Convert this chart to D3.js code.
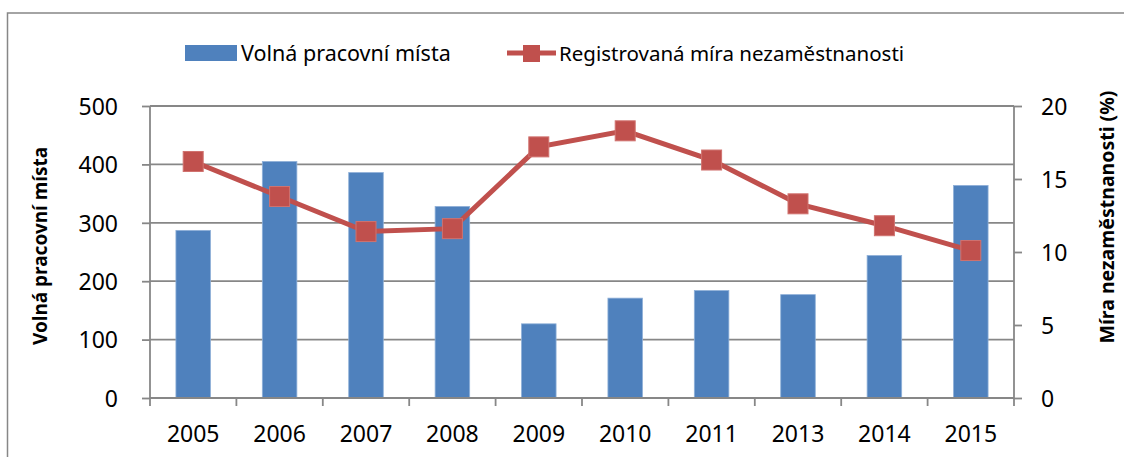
<!DOCTYPE html>
<html>
<head>
<meta charset="utf-8">
<script src="https://cdn.jsdelivr.net/npm/d3@7"></script>
<style>
  body { margin: 0; background: #fff; }
  svg { display: block; font-family: "Noto Sans", "Open Sans", sans-serif; }
  .tick text { fill: #000; }
</style>
</head>
<body>
<svg id="chart"></svg>
<script>
var width = 1124;
var height = 457;

// data
var years = ['2005', '2006', '2007', '2008', '2009', '2010', '2011', '2013', '2014', '2015'];
var vacancies = [287, 405, 386, 328, 127, 171, 184, 177, 244, 364];
var unemployment = [16.2, 13.8, 11.4, 11.6, 17.2, 18.3, 16.3, 13.3, 11.8, 10.1];
var leftTicks = [0, 100, 200, 300, 400, 500];
var rightTicks = [0, 5, 10, 15, 20];

var barName = 'Volná pracovní místa';
var lineName = 'Registrovaná míra nezaměstnanosti';
var leftTitle = 'Volná pracovní místa';
var rightTitle = 'Míra nezaměstnanosti (%)';

var blue = '#4f81bd';
var red = '#c0504d';
var grey = '#878787';

var plot = { left: 150, right: 1014, top: 106, bottom: 398 };

var svg = d3.select('#chart')
   .attr('width', width)
   .attr('height', height)
;

// outer frame
svg.append('rect')
   .attr('x', 7.5)
   .attr('y', 13)
   .attr('width', width)
   .attr('height', height)
   .attr('fill', 'none')
   .attr('stroke', grey)
   .attr('stroke-width', 1.5)
;

var x = d3.scaleBand()
   .domain(years)
   .range([plot.left, plot.right])
   .paddingInner(0.6)
   .paddingOuter(0.3)
;

var yL = d3.scaleLinear().domain([0, 500]).range([plot.bottom, plot.top]);
var yR = d3.scaleLinear().domain([0, 20]).range([plot.bottom, plot.top]);

// gridlines
svg.append('g')
   .selectAll('line')
   .data(leftTicks)
   .enter()
   .append('line')
   .attr('x1', plot.left)
   .attr('x2', plot.right)
   .attr('y1', function(d) { return yL(d); })
   .attr('y2', function(d) { return yL(d); })
   .attr('stroke', grey)
   .attr('stroke-width', 1.8)
;

// bars
svg.append('g')
   .selectAll('rect')
   .data(vacancies)
   .enter()
   .append('rect')
   .attr('x', function(d, i) { return x(years[i]); })
   .attr('y', function(d) { return yL(d); })
   .attr('width', x.bandwidth())
   .attr('height', function(d) { return yL(0) - yL(d); })
   .attr('fill', blue)
   .attr('stroke', '#8fb0d8')
   .attr('stroke-width', 0.8)
;

// left axis
var gl = svg.append('g')
   .attr('transform', 'translate(' + plot.left + ',0)')
   .call(d3.axisLeft(yL).tickValues(leftTicks).tickSize(8).tickPadding(24).tickFormat(d3.format('d')))
;

// right axis
var gr = svg.append('g')
   .attr('transform', 'translate(' + plot.right + ',0)')
   .call(d3.axisRight(yR).tickValues(rightTicks).tickSize(8).tickPadding(19).tickFormat(d3.format('d')))
;

[gl, gr].forEach(function(g) {
   g.selectAll('path, line').attr('stroke', grey).attr('stroke-width', 1.8);
   g.select('.domain').attr('d', 'M0,' + plot.top + 'V' + plot.bottom);
   g.selectAll('text')
      .style('font-size', '23px')
      .style('font-family', '"Noto Sans", sans-serif')
      .attr('dy', '0.36em')
   ;
});

// x axis
var step = x.step();
var bounds = years.map(function(d) { return x(d) - step * 0.3; }).concat([plot.right]);

svg.append('line')
   .attr('x1', plot.left)
   .attr('x2', plot.right)
   .attr('y1', plot.bottom)
   .attr('y2', plot.bottom)
   .attr('stroke', grey)
   .attr('stroke-width', 1.8)
;

svg.append('g')
   .selectAll('line')
   .data(bounds)
   .enter()
   .append('line')
   .attr('x1', function(d) { return d; })
   .attr('x2', function(d) { return d; })
   .attr('y1', plot.bottom)
   .attr('y2', plot.bottom + 8)
   .attr('stroke', grey)
   .attr('stroke-width', 1.8)
;

svg.append('g')
   .selectAll('text')
   .data(years)
   .enter()
   .append('text')
   .attr('x', function(d) { return x(d) + x.bandwidth() / 2; })
   .attr('y', 442)
   .attr('text-anchor', 'middle')
   .style('font-size', '23px')
   .text(function(d) { return d; })
;

// line series
var line = d3.line()
   .x(function(d, i) { return x(years[i]) + x.bandwidth() / 2; })
   .y(function(d) { return yR(d); })
;

svg.append('path')
   .datum(unemployment)
   .attr('d', line)
   .attr('fill', 'none')
   .attr('stroke', red)
   .attr('stroke-width', 5)
;

svg.append('g')
   .selectAll('rect')
   .data(unemployment)
   .enter()
   .append('rect')
   .attr('x', function(d, i) { return x(years[i]) + x.bandwidth() / 2 - 10; })
   .attr('y', function(d) { return yR(d) - 10; })
   .attr('width', 20)
   .attr('height', 20)
   .attr('fill', red)
   .attr('stroke', '#d0726f')
   .attr('stroke-width', 1)
;

// axis titles
svg.append('text')
   .attr('transform', 'translate(47,246) rotate(-90)')
   .attr('text-anchor', 'middle')
   .style('font-size', '19px')
   .style('font-weight', 'bold')
   .text(leftTitle)
;

svg.append('text')
   .attr('transform', 'translate(1114,217) rotate(-90)')
   .attr('text-anchor', 'middle')
   .style('font-size', '19.5px')
   .style('font-weight', 'bold')
   .text(rightTitle)
;

// legend
var lg = svg.append('g');

lg.append('rect')
   .attr('x', 185)
   .attr('y', 45)
   .attr('width', 52)
   .attr('height', 16)
   .attr('fill', blue)
;

lg.append('text')
   .attr('x', 241)
   .attr('y', 61)
   .style('font-size', '21.5px')
   .text(barName)
;

lg.append('line')
   .attr('x1', 507)
   .attr('x2', 556)
   .attr('y1', 53)
   .attr('y2', 53)
   .attr('stroke', red)
   .attr('stroke-width', 5)
;

lg.append('rect')
   .attr('x', 523)
   .attr('y', 45)
   .attr('width', 17)
   .attr('height', 17)
   .attr('fill', red)
;

lg.append('text')
   .attr('x', 559)
   .attr('y', 61)
   .style('font-size', '20.5px')
   .text(lineName)
;
</script>
</body>
</html>
